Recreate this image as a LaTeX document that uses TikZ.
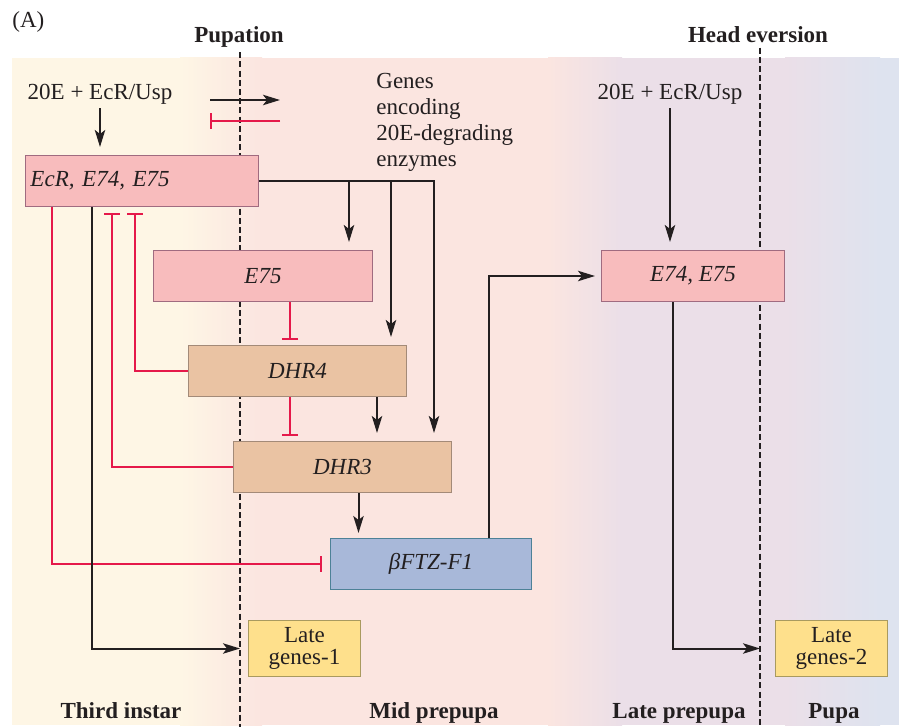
\documentclass[tikz,border=0pt]{standalone}
\usepackage{fontspec}
\setmainfont{Liberation Serif}
\usepackage{tikz}
\usepackage{xcolor}
\usetikzlibrary{positioning,arrows,arrows.meta,shapes}

\definecolor{creambg}{HTML}{FEF6E5}
\definecolor{pinkbg}{HTML}{FBE5E0}
\definecolor{lavbg}{HTML}{EBDFE8}
\definecolor{bluebg}{HTML}{DEE3EF}
\definecolor{boxpink}{HTML}{F8BCBD}
\definecolor{boxpinkline}{HTML}{A06B80}
\definecolor{boxtan}{HTML}{EAC3A3}
\definecolor{boxtanline}{HTML}{A38A78}
\definecolor{boxblue}{HTML}{A8B8D9}
\definecolor{boxblueline}{HTML}{4D8197}
\definecolor{boxyellow}{HTML}{FEE08C}
\definecolor{boxyellowline}{HTML}{A99A5F}
\definecolor{inhred}{HTML}{E5194A}
\definecolor{inkblack}{HTML}{231F20}

\tikzset{
>={Stealth[length=8.5pt,width=5.2pt,inset=2pt]},
  wire/.style={draw=inkblack, line width=1pt},
  act/.style={wire, ->, shorten >=4pt},
  inhib/.style={draw=inhred, line width=0.9pt, -{Bar[width=8pt]}, shorten >=2.5pt},
  stage/.style={draw=inkblack, line width=0.6pt, dash pattern=on 3pt off 1.6pt},
}

\begin{document}
\fontsize{11.5}{13}\selectfont
\begin{tikzpicture}[x=0.5pt, y=-0.5pt]
    \tikzset{
        every node/.style={inner sep=0pt, text=inkblack},
        genebox/.style={rectangle, line width=0.5pt, minimum height=25.5pt, font=\itshape},
        pinkbox/.style={genebox, fill=boxpink, draw=boxpinkline},
        tanbox/.style={genebox, fill=boxtan, draw=boxtanline},
        bluebox/.style={genebox, fill=boxblue, draw=boxblueline},
        latebox/.style={rectangle, fill=boxyellow, draw=boxyellowline, line width=0.5pt, minimum width=56pt, minimum height=28pt, align=center, font=\fontsize{11.5}{10.8}\selectfont},
        phase/.style={font=\bfseries, anchor=base},
    }
    \useasboundingbox (0,0) rectangle (899,727);

    % stage bands
    \fill[creambg] (12,58) rectangle (182,725);
    \shade[left color=creambg, right color=pinkbg] (180,58) rectangle (262,725);
    \fill[pinkbg] (260,58) rectangle (550,725);
    \shade[left color=pinkbg, right color=lavbg] (548,58) rectangle (622,725);
    \fill[lavbg] (620,58) rectangle (787,725);
    \shade[left color=lavbg, right color=bluebg] (785,58) rectangle (880,725);
    \fill[bluebg] (878,58) rectangle (899,725);

    \node[anchor=base west] (panel) at (12,28) {(A)};
    \node[phase] (pup) at (239,43) {Pupation};
    \node[phase] (head) at (758,43) {Head eversion};
    \coordinate (pupfoot) at (240,727);
    \coordinate (headfoot) at (760,727);
    \path[stage] ([yshift=-2pt]pup.south -| pupfoot) -- (pupfoot);
    \path[stage] ([yshift=-2pt]head.south -| headfoot) -- (headfoot);

    \node[phase] (third) at (121,718) {Third instar};
    \node[phase] (mid) at (434,718) {Mid prepupa};
    \node[phase] (latepp) at (679,718) {Late prepupa};
    \node[phase] (pupa) at (834,718) {Pupa};

    % genes
    \node[anchor=base] (in1) at (100,100) {20E + EcR/Usp};
    \node[anchor=base] (in2) at (670,100) {20E + EcR/Usp};
    \node[anchor=north west, align=left] (genes) at (376,73) {Genes\\encoding\\20E-degrading\\enzymes};

    \node[pinkbox, anchor=north west, minimum width=116.5pt, text width=111.5pt, inner xsep=2.5pt, align=left] (ecr) at (25,155) {EcR, E74, E75};
    \node[pinkbox, anchor=north west, minimum width=109.5pt] (e75) at (153,250) {E75};
    \node[tanbox, anchor=north west, minimum width=109pt] (dhr4) at (188,345) {DHR4};
    \node[tanbox, anchor=north west, minimum width=109pt] (dhr3) at (233,441) {DHR3};
    \node[bluebox, anchor=north west, minimum width=100.5pt] (ftz) at (330,538) {βFTZ-F1};
    \node[latebox, anchor=north west] (late1) at (248,620) {Late\\genes-1};
    \node[pinkbox, anchor=north west, minimum width=91.5pt] (e7475) at (601,250) {E74, E75};
    \node[latebox, anchor=north west] (late2) at (775,620) {Late\\genes-2};

    \coordinate (up0) at (210,100);
    \coordinate (up1) at (280,100);
    \coordinate (dn0) at (280,121);
    \coordinate (dn1) at (210,121);
    \path[act, shorten >=0pt] (up0) -- (up1);
    \path[inhib, shorten >=0pt] (dn0) -- (dn1);

    \path[act, shorten <=1.5pt] (in1.south) -- (in1.south |- ecr.north);

    \coordinate (tapA) at ([xshift=-12pt]e75.north east);
    \coordinate (tapB) at ([xshift=-8pt]dhr4.north east);
    \coordinate (tapC) at ([xshift=-9pt]dhr3.north east);
    \path[act] (ecr.east) -- (tapC |- ecr.east) -- (tapC);
    \path[act] (tapA |- ecr.east) -- (tapA);
    \path[act] (tapB |- ecr.east) -- (tapB);

    \path[inhib] ([xshift=13.5pt]e75.south) -- ([xshift=13.5pt]e75.south |- dhr4.north);
    \path[inhib] ([xshift=-3.75pt]dhr4.south) -- ([xshift=-3.75pt]dhr4.south |- dhr3.north);
    \path[act] ([xshift=-15pt]dhr4.south east) -- ([xshift=-15pt]dhr4.south east |- dhr3.north);
    \path[act, shorten >=2.5pt] ([xshift=8pt]dhr3.south) -- ([xshift=8pt]dhr3.south |- ftz.north);

    \path[inhib, shorten >=3pt] (dhr4.west) -| ([xshift=55pt]ecr.south west);
    \path[inhib, shorten >=3pt] (dhr3.west) -| ([xshift=43.5pt]ecr.south west);
    \path[inhib, shorten >=4pt] ([xshift=13.5pt]ecr.south west) |- (ftz.west);
    \path[act] ([xshift=33.5pt]ecr.south west) |- (late1.west);

    \path[act, shorten >=3pt] ([xshift=-21.5pt]ftz.north east) |- (e7475.west);
    \path[act, shorten <=1.5pt] (in2.south) -- (in2.south |- e7475.north);
    \path[act, shorten >=7.5pt] ([xshift=-10pt]e7475.south) |- (late2.west);
\end{tikzpicture}
\end{document}
